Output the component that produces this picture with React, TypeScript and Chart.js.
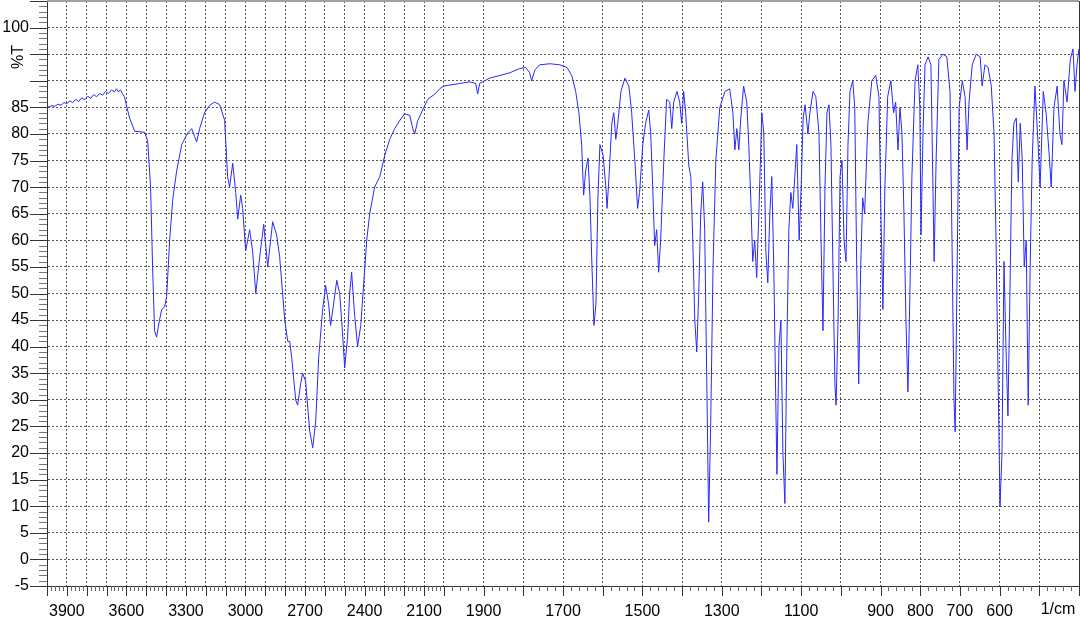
import { useEffect, useRef } from "react";
import { Chart, registerables } from "chart.js";

Chart.register(...registerables);

// Wavenumbers (1/cm) and %T
const wavenumbers = [
  4000, 3990, 3975, 3960, 3945, 3930, 3915, 3900, 3885, 3870, 3855, 3840, 3825, 3810, 3795, 3780, 3765, 3750, 3735, 3720,
  3705, 3690, 3675, 3660, 3650, 3640, 3630, 3620, 3610, 3584, 3558, 3508, 3493, 3478, 3468, 3458, 3448, 3433, 3422, 3407,
  3397, 3382,
  3367, 3347, 3321, 3291, 3271, 3256, 3246, 3231, 3206, 3180, 3155, 3130, 3105, 3090, 3080, 3064, 3049, 3039, 3024, 3014,
  2999, 2979, 2964, 2948, 2928, 2908, 2888, 2863, 2843, 2828, 2802, 2787, 2777, 2767, 2747, 2737, 2722, 2712, 2697, 2676,
  2661, 2646, 2631, 2611, 2596, 2581, 2571, 2556, 2540, 2525, 2510, 2500, 2485, 2475, 2465, 2450, 2435, 2419, 2404, 2389,
  2374, 2349, 2323, 2298, 2273, 2248, 2223, 2198, 2172, 2157, 2147, 2132, 2107, 2082, 2046, 2021, 2001,
  1985, 1960, 1935, 1920, 1915, 1910, 1885, 1859, 1834, 1809, 1794, 1784, 1779, 1771, 1759, 1733, 1708, 1690, 1678, 1668,
  1660, 1653, 1648, 1643, 1637, 1632, 1627, 1622, 1617, 1612, 1607, 1599, 1592, 1589, 1584, 1577, 1572, 1567, 1562, 1554,
  1544, 1534, 1527, 1519, 1512, 1507, 1499, 1492, 1484, 1479, 1474, 1469, 1464, 1459, 1454, 1446, 1439, 1431, 1426, 1421,
  1413, 1406, 1401, 1396, 1391, 1383, 1378, 1373, 1368, 1363, 1358, 1353, 1348, 1343, 1338, 1333, 1328, 1322, 1315, 1305,
  1292, 1280, 1272, 1267, 1262, 1257, 1252, 1245, 1237, 1232, 1227, 1222, 1217, 1212, 1207, 1199, 1194, 1189, 1184, 1179,
  1174, 1169, 1164, 1161, 1156, 1151, 1146, 1141, 1136, 1131, 1126, 1121, 1116, 1111, 1105, 1100, 1095, 1090, 1083, 1078,
  1070, 1063, 1055, 1050, 1045, 1040, 1035, 1030, 1025, 1020, 1015, 1012, 1007, 1002, 997, 992, 987, 982, 977, 970,
  965, 960, 955, 950, 945, 940, 932, 922, 912, 904, 899, 894, 889, 882, 874, 867, 862, 856, 851, 846,
  841, 836, 831, 826, 821, 813, 806, 801, 798, 793, 788, 780, 773, 768, 765, 760, 753, 743, 733, 725,
  720, 715, 712, 707, 702, 694, 687, 682, 677, 669, 659, 649, 644, 637, 629, 621, 614, 609, 604, 599,
  594, 589, 584, 579, 574, 569, 564, 558, 553, 548, 543, 538, 533, 528, 523, 518, 511, 503, 498, 490,
  483, 475, 470, 463, 455, 448, 443, 438, 430, 422, 415, 410, 405, 400,
];

const transmittance = [
  85.0, 85.1, 85.3, 85.2, 85.6, 85.4, 85.9, 85.7, 86.2, 85.9, 86.5, 86.1, 86.8, 86.4, 87.1, 86.7, 87.4, 87.0, 87.6, 87.3,
  88.0, 87.6, 88.3, 87.9, 88.5, 87.9, 88.3, 87.6, 87.0, 83.0, 80.5, 80.3, 78.8, 70.0, 55.0, 43.0, 41.8, 45.0, 47.0, 47.5,
  49.5, 60.0,
  67.5, 73.0, 78.0, 80.2, 81.0, 79.5, 78.5, 81.0, 84.0, 85.4, 86.0, 85.5, 82.6, 72.0, 70.0, 74.5, 69.0, 64.0, 68.5, 66.0,
  58.0, 62.0, 58.0, 50.0, 57.0, 63.0, 55.0, 63.5, 61.0, 57.0, 45.0, 41.0, 41.0, 38.0, 30.0, 29.0, 33.0, 35.0, 33.5, 24.0,
  21.0, 26.0, 38.0, 47.0, 51.5, 48.0, 44.0, 48.0, 52.5, 50.0, 42.0, 36.0, 42.0, 50.0, 54.0, 46.0, 40.0, 44.0, 52.0, 60.0,
  65.0, 70.0, 72.0, 76.0, 79.0, 81.0, 82.5, 83.8, 83.5, 81.0, 80.0, 82.5, 84.5, 86.5, 87.5, 88.5, 89.0,
  89.2, 89.5, 89.8, 89.5, 87.5, 89.5, 90.5, 91.0, 91.5, 92.3, 92.5, 91.5, 90.0, 92.0, 93.0, 93.2, 93.0, 92.5, 91.0, 88.0,
  84.0, 78.0, 68.5, 73.0, 75.5, 68.0, 55.0, 44.0, 48.0, 68.0, 78.0, 76.0, 70.0, 66.0, 72.0, 82.0, 84.0, 79.0, 82.0, 88.0,
  90.5, 89.0, 84.0, 75.0, 66.0, 69.0, 78.0, 82.0, 84.5, 80.0, 70.0, 59.0, 62.0, 54.0, 60.0, 75.0, 86.5, 86.0, 81.0, 86.0,
  88.0, 86.0, 82.0, 88.0, 84.0, 74.0, 72.0, 60.0, 45.0, 39.0, 50.0, 65.0, 71.0, 62.0, 35.0, 7.0, 25.0, 55.0, 75.0, 85.0,
  88.0, 88.5, 84.0, 77.0, 81.0, 77.0, 83.0, 89.0, 86.0, 78.0, 68.0, 56.0, 60.0, 53.0, 64.0, 84.0, 80.0, 58.0, 52.0, 65.0,
  72.0, 55.0, 30.0, 16.0, 40.0, 45.0, 20.0, 10.5, 40.0, 62.0, 69.0, 66.0, 72.0, 78.0, 60.0, 70.0, 83.0, 85.5, 80.0, 84.0,
  88.0, 87.0, 80.0, 60.0, 43.0, 70.0, 84.0, 85.5, 78.0, 55.0, 33.0, 29.0, 45.0, 72.0, 75.0, 60.0, 56.0, 78.0, 88.0, 90.0,
  85.0, 55.0, 33.0, 55.0, 68.0, 65.0, 82.0, 90.0, 91.0, 87.0, 65.0, 47.0, 70.0, 87.0, 90.0, 84.0, 86.0, 77.0, 85.0, 80.0,
  65.0, 45.0, 31.5, 50.0, 72.0, 90.0, 93.0, 85.0, 61.0, 80.0, 93.0, 94.5, 93.0, 70.0, 56.0, 75.0, 94.0, 95.0, 94.5, 88.0,
  60.0, 30.0, 24.0, 55.0, 85.0, 90.0, 87.0, 77.0, 86.0, 93.0, 95.0, 94.5, 89.0, 93.0, 92.5, 89.0, 80.0, 60.0, 35.0, 10.0,
  20.0, 56.0, 40.0, 27.0, 50.0, 75.0, 82.0, 83.0, 71.0, 82.0, 75.0, 55.0, 60.0, 29.0, 55.0, 75.0, 89.0, 78.0, 70.0, 88.0,
  84.0, 76.0, 70.0, 85.0, 89.0, 80.0, 78.0, 90.0, 86.0, 94.0, 96.0, 88.0, 93.0, 96.0,
];

// Axis definitions
const xGridWavenumbers = Array.from({ length: 37 }, (_, i) => 4000 - i * 100);
const xLabelWavenumbers = [3900, 3600, 3300, 3000, 2700, 2400, 2100, 1900, 1700, 1500, 1300, 1100, 900, 800, 700, 600];
const xUnitLabel = "1/cm";
const yTickValues = Array.from({ length: 23 }, (_, i) => -5 + i * 5);
const yHiddenLabels = [90, 95, 105];
const yTitle = "%T";

// Shimadzu-style compressed axis: 4000-2000 at half scale, 2000-400 at full scale
const toAxis = (w: number) => (w >= 2000 ? 4000 - w : 2000 + (2000 - w) * 2);
const fromAxis = (u: number) => (u <= 2000 ? 4000 - u : 2000 - (u - 2000) / 2);

const FONT = "Liberation Sans, Arial, sans-serif";

const decorPlugin = {
  id: "irDecor",
  afterDraw(chart: any) {
    const { ctx, chartArea, scales } = chart;
    const xs = scales.x;
    const ys = scales.y;
    ctx.save();
    ctx.lineWidth = 1;
    for (let w = 4000; w >= 400; w -= 20) {
      const px = Math.round(xs.getPixelForValue(toAxis(w))) + 0.5;
      const major = w % 100 === 0;
      ctx.strokeStyle = major ? "#333" : "#666";
      ctx.beginPath();
      ctx.moveTo(px, chartArea.bottom);
      ctx.lineTo(px, chartArea.bottom + (major ? 10 : 5));
      ctx.stroke();
    }
    for (let v = -5; v <= 105; v += 1) {
      const py = Math.round(ys.getPixelForValue(v)) + 0.5;
      const major = v % 5 === 0;
      ctx.strokeStyle = major ? "#333" : "#777";
      ctx.beginPath();
      ctx.moveTo(chartArea.left, py);
      ctx.lineTo(chartArea.left - (major ? 17 : 8), py);
      ctx.stroke();
    }
    ctx.strokeStyle = "#a0a0a0";
    ctx.lineWidth = 2;
    ctx.beginPath();
    ctx.moveTo(chartArea.left, chartArea.top);
    ctx.lineTo(chartArea.right, chartArea.top);
    ctx.stroke();
    ctx.strokeStyle = "#333";
    ctx.lineWidth = 1;
    ctx.beginPath();
    ctx.moveTo(chartArea.right + 0.5, chartArea.top);
    ctx.lineTo(chartArea.right + 0.5, chartArea.bottom);
    ctx.stroke();
    ctx.fillStyle = "#000";
    ctx.font = `16px ${FONT}`;
    ctx.textAlign = "center";
    ctx.textBaseline = "top";
    ctx.fillText(xUnitLabel, 1058, chartArea.bottom + 16);
    ctx.translate(19, 57);
    ctx.rotate(-Math.PI / 2);
    ctx.textBaseline = "middle";
    ctx.fillText(yTitle, 0, 0);
    ctx.restore();
  },
};

export default function App() {
  const canvasRef = useRef<HTMLCanvasElement | null>(null);

  useEffect(() => {
    const canvas = canvasRef.current;
    if (!canvas) return;
    const points = wavenumbers.map((w, i) => ({ x: toAxis(w), y: transmittance[i] }));
    const chart = new Chart(canvas, {
      type: "line",
      data: {
        datasets: [
          {
            data: points,
            borderColor: "rgb(40,40,255)",
            borderWidth: 1,
            pointRadius: 0,
            tension: 0,
            fill: false,
          },
        ],
      },
      options: {
        animation: false,
        responsive: false,
        devicePixelRatio: 1,
        events: [],
        layout: { padding: { top: 1, right: 1, left: 0, bottom: 0 } },
        plugins: { legend: { display: false }, tooltip: { enabled: false } },
        scales: {
          x: {
            type: "linear",
            min: 0,
            max: 5200,
            afterBuildTicks: (scale: any) => {
              scale.ticks = xGridWavenumbers.map((w) => ({ value: toAxis(w) }));
            },
            afterFit: (scale: any) => {
              scale.height = 37;
              scale.paddingLeft = 0;
              scale.paddingRight = 0;
            },
            grid: { color: "#555", lineWidth: 1, drawTicks: false },
            border: { display: true, color: "#333", width: 1, dash: [2, 2] },
            ticks: {
              autoSkip: false,
              maxRotation: 0,
              padding: 16,
              color: "#000",
              font: { family: FONT, size: 16 },
              callback: (value: any) => {
                const w = Math.round(fromAxis(Number(value)));
                return xLabelWavenumbers.includes(w) ? String(w) : "";
              },
            },
          },
          y: {
            type: "linear",
            min: -5,
            max: 105,
            afterBuildTicks: (scale: any) => {
              scale.ticks = yTickValues.map((v) => ({ value: v }));
            },
            afterFit: (scale: any) => {
              scale.width = 47;
              scale.paddingTop = 0;
              scale.paddingBottom = 0;
            },
            grid: { color: "#555", lineWidth: 1, drawTicks: false },
            border: { display: true, color: "#333", width: 1, dash: [2, 2] },
            ticks: {
              autoSkip: false,
              padding: 18,
              color: "#000",
              font: { family: FONT, size: 16 },
              callback: (value: any) => (yHiddenLabels.includes(Number(value)) ? "" : String(value)),
            },
          },
        },
      },
      plugins: [decorPlugin],
    });
    return () => chart.destroy();
  }, []);

  return (
    <div style={{ position: "fixed", left: 0, top: 0, width: 1080, height: 623, background: "#fff" }}>
      <canvas ref={canvasRef} width={1080} height={623} style={{ display: "block" }} />
    </div>
  );
}
